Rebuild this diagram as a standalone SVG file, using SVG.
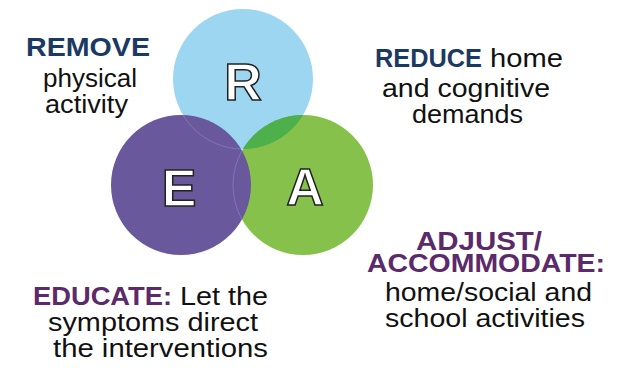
<svg xmlns="http://www.w3.org/2000/svg" width="626" height="368" viewBox="0 0 626 368">
<style>
.lt{font-family:"Liberation Sans",Arial,sans-serif;font-weight:bold;font-size:52px;fill:#fff;stroke:#222;stroke-width:1.5;text-anchor:middle}
.b{font-family:"Liberation Sans",Arial,sans-serif;font-size:26px;fill:#111}
.nv{font-weight:bold;fill:#1b3a63}
.pp{font-weight:bold;fill:#5b2a6b}
</style>
<rect width="626" height="368" fill="#fff"/>
<defs>
<clipPath id="cR"><circle cx="243" cy="79" r="70"/></clipPath>
<clipPath id="cE"><circle cx="181" cy="185" r="70"/></clipPath>
</defs>
<g id="R"><circle cx="243" cy="79" r="70" fill="#9dd6f1"/></g>
<g id="A"><circle cx="303" cy="185" r="70" fill="#86c24b"/>
<circle cx="303" cy="185" r="70" fill="#4db04a" clip-path="url(#cR)"/></g>
<g id="E"><circle cx="181" cy="185" r="70" fill="#6a589c"/>
<circle cx="303" cy="185" r="70" fill="none" stroke="#a79fc8" stroke-width="0.7" opacity="0.6" clip-path="url(#cE)"/>
<circle cx="243" cy="79" r="70" fill="none" stroke="#a79fc8" stroke-width="0.7" opacity="0.6" clip-path="url(#cE)"/>
</g>
<g id="letters">
<text class="lt" x="243" y="100">R</text>
<text class="lt" x="179" y="206">E</text>
<text class="lt" x="305" y="205">A</text>
</g>
<g id="remove"><text class="b">
<tspan class="nv" x="26" y="56" textLength="124" lengthAdjust="spacingAndGlyphs">REMOVE</tspan>
<tspan x="43" y="87" textLength="94" lengthAdjust="spacingAndGlyphs">physical</tspan>
<tspan x="45" y="113" textLength="83" lengthAdjust="spacingAndGlyphs">activity</tspan></text></g>
<g id="reduce"><text class="b">
<tspan class="nv" x="375" y="67" textLength="107" lengthAdjust="spacingAndGlyphs">REDUCE</tspan>
<tspan x="490" y="67" textLength="73" lengthAdjust="spacingAndGlyphs">home</tspan>
<tspan x="382" y="97" textLength="168" lengthAdjust="spacingAndGlyphs">and cognitive</tspan>
<tspan x="412" y="123" textLength="111" lengthAdjust="spacingAndGlyphs">demands</tspan></text></g>
<g id="adjust"><text class="b">
<tspan class="pp" x="416" y="250" textLength="126" lengthAdjust="spacingAndGlyphs">ADJUST/</tspan>
<tspan class="pp" x="367" y="272" textLength="238" lengthAdjust="spacingAndGlyphs">ACCOMMODATE:</tspan>
<tspan x="385" y="301" textLength="207" lengthAdjust="spacingAndGlyphs">home/social and</tspan>
<tspan x="385" y="327" textLength="200" lengthAdjust="spacingAndGlyphs">school activities</tspan></text></g>
<g id="educate"><text class="b">
<tspan class="pp" x="33" y="305" textLength="139" lengthAdjust="spacingAndGlyphs">EDUCATE:</tspan>
<tspan x="180" y="305" textLength="88" lengthAdjust="spacingAndGlyphs">Let the</tspan>
<tspan x="48" y="331" textLength="210" lengthAdjust="spacingAndGlyphs">symptoms direct</tspan>
<tspan x="53" y="357" textLength="215" lengthAdjust="spacingAndGlyphs">the interventions</tspan></text></g>
</svg>
